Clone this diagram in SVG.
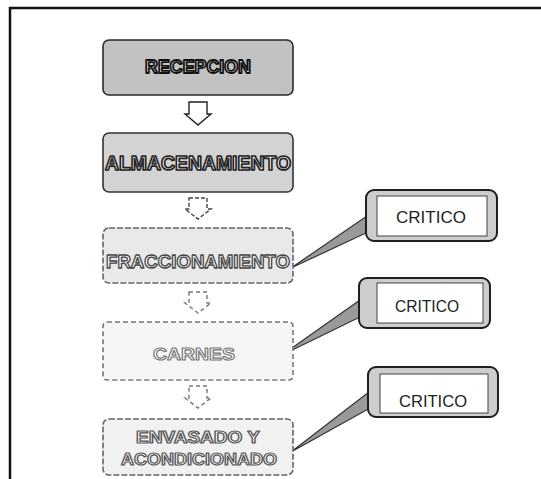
<svg xmlns="http://www.w3.org/2000/svg" width="541" height="479" viewBox="0 0 541 479">
  <defs>
    <style>
      .frame { fill: none; stroke: #111; stroke-width: 2.5; }
      .step { stroke-width: 1.6; }
      .s1 { fill: #c2c2c2; stroke: #2a2a2a; }
      .s2 { fill: #d3d3d3; stroke: #333; }
      .s3 { fill: #e9e9e9; stroke: #666; stroke-dasharray: 6 2; }
      .s4 { fill: #f5f5f5; stroke: #777; stroke-dasharray: 5 3; }
      .s5 { fill: #f1f1f1; stroke: #666; stroke-dasharray: 6 2; }
      .label { font-family: "Liberation Sans", Arial, sans-serif; font-weight: bold; text-anchor: middle; fill: #fff; stroke-linejoin: round; }
      .t1 { stroke: #111; stroke-width: 1.8; }
      .t2 { stroke: #222; stroke-width: 1.7; }
      .t3 { stroke: #444; stroke-width: 1.3; }
      .t4 { stroke: #777; stroke-width: 1.1; }
      .t5 { stroke: #555; stroke-width: 1.2; }
      .flow { fill: #fff; stroke-width: 1.4; }
      .f1 { stroke: #222; }
      .f2 { stroke: #444; stroke-dasharray: 4 2; }
      .f3 { stroke: #777; stroke-dasharray: 4 3; }
      .f4 { stroke: #777; stroke-dasharray: 4 3; }
      .pointer { fill: #9a9a9a; stroke: #333; stroke-width: 1.2; stroke-linejoin: round; }
      .bubble { fill: #cdcdcd; stroke: #1e1e1e; stroke-width: 2; }
      .bubble-inner { fill: #fff; stroke: #444; stroke-width: 1; }
      .tag { font-family: "Liberation Sans", Arial, sans-serif; font-size: 16px; fill: #222; text-anchor: middle; }
    </style>
  </defs>

  <rect width="541" height="479" fill="#fff"/>
  <!-- outer frame: top and left rules -->
  <path class="frame" d="M10,479 V8 H541"/>

  <!-- connectors: block arrows between steps and callout pointers -->
  <g id="connectors">
    <path class="flow f1" d="M189,102 H207 V114 H211 L198,125 L185,114 H189 Z"/>
    <path class="flow f2" d="M189,198 H207 V209 H211 L198,219 L185,209 H189 Z"/>
    <path class="flow f3" d="M189,292 H207 V303 H211 L198,313 L185,303 H189 Z"/>
    <path class="flow f4" d="M189,386 H207 V398 H211 L198,408 L185,398 H189 Z"/>
    <polygon class="pointer" points="367,216 368,232 291,268"/>
    <polygon class="pointer" points="360,300 362,316 282,355"/>
    <polygon class="pointer" points="369,392 370,408 291,452"/>
  </g>

  <g id="recepcion">
    <rect class="step s1" x="103" y="40" width="190" height="55" rx="6"/>
    <text class="label t1" x="198" y="73" font-size="18" textLength="106" lengthAdjust="spacingAndGlyphs">RECEPCION</text>
  </g>

  <g id="almacenamiento">
    <rect class="step s2" x="103" y="133" width="190" height="59" rx="6"/>
    <text class="label t2" x="198" y="170" font-size="20" textLength="186" lengthAdjust="spacingAndGlyphs">ALMACENAMIENTO</text>
  </g>

  <g id="fraccionamiento">
    <rect class="step s3" x="103" y="228" width="190" height="55" rx="6"/>
    <text class="label t3" x="198" y="268" font-size="19" textLength="184" lengthAdjust="spacingAndGlyphs">FRACCIONAMIENTO</text>
  </g>

  <g id="carnes">
    <rect class="step s4" x="103" y="322" width="190" height="58" rx="4"/>
    <text class="label t4" x="194" y="360" font-size="17" textLength="82" lengthAdjust="spacingAndGlyphs">CARNES</text>
  </g>

  <g id="envasado">
    <rect class="step s5" x="103" y="419" width="190" height="56" rx="6"/>
    <text class="label t5" x="198" y="443" font-size="16" textLength="124" lengthAdjust="spacingAndGlyphs">ENVASADO Y</text>
    <text class="label t5" x="199" y="465" font-size="16" textLength="156" lengthAdjust="spacingAndGlyphs">ACONDICIONADO</text>
  </g>

  <g id="critico-1">
    <rect class="bubble" x="366" y="190" width="131" height="51" rx="8"/>
    <rect class="bubble-inner" x="377" y="196" width="110" height="40"/>
    <text class="tag" x="431" y="223" textLength="70" lengthAdjust="spacingAndGlyphs">CRITICO</text>
  </g>

  <g id="critico-2">
    <rect class="bubble" x="359" y="278" width="131" height="50" rx="8"/>
    <rect class="bubble-inner" x="377" y="283" width="106" height="40"/>
    <text class="tag" x="427" y="312" textLength="64" lengthAdjust="spacingAndGlyphs">CRITICO</text>
  </g>

  <g id="critico-3">
    <rect class="bubble" x="368" y="367" width="130" height="50" rx="8"/>
    <rect class="bubble-inner" x="380" y="374" width="108" height="39"/>
    <text class="tag" x="433" y="407" textLength="68" lengthAdjust="spacingAndGlyphs">CRITICO</text>
  </g>
</svg>
